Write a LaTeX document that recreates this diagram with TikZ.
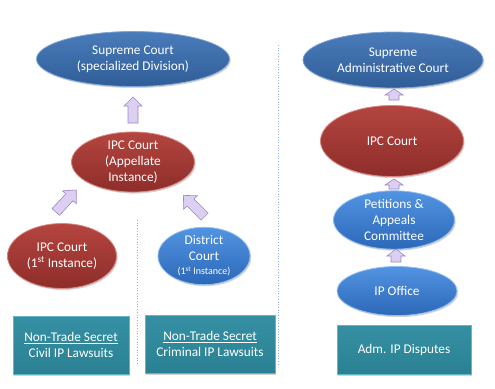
\documentclass[tikz,border=0pt]{standalone}
\usepackage{fontspec}
\setmainfont{Carlito}
\usetikzlibrary{shapes.geometric,shadows}
\definecolor{dbTop}{HTML}{4A7CBA}
\definecolor{dbBot}{HTML}{2F5D97}
\definecolor{dbEdge}{HTML}{7FA6D6}
\definecolor{rdTop}{HTML}{B4453F}
\definecolor{rdBot}{HTML}{8E2D2A}
\definecolor{rdEdge}{HTML}{D98884}
\definecolor{bbTop}{HTML}{5294E2}
\definecolor{bbBot}{HTML}{2C68B8}
\definecolor{bbEdge}{HTML}{8FBDF0}
\definecolor{tlFill}{HTML}{2B8194}
\definecolor{tlTop}{HTML}{358FA2}
\definecolor{tlEdge}{HTML}{62B6C8}
\definecolor{arFill}{HTML}{DCCFF2}
\definecolor{arEdge}{HTML}{9A87C8}
\definecolor{sepLine}{HTML}{8DB3E2}
% block arrow: #1 coordinate name, #2 angle, #3 length, #4 head length, #5 head width, #6 shaft width
\newcommand{\blockarr}[6]{%
  \begin{scope}[shift={(#1)}, rotate=#2]
    \filldraw[draw=arEdge, fill=arFill, line width=0.6pt, line join=miter]
      ({#3/2},0) -- ({#3/2-#4},{#5/2}) -- ({#3/2-#4},{#6/2}) -- ({-#3/2},{#6/2})
      -- ({-#3/2},{-#6/2}) -- ({#3/2-#4},{-#6/2}) -- ({#3/2-#4},{-#5/2}) -- cycle;
  \end{scope}}
\begin{document}
\begin{tikzpicture}[x=1pt,y=-1pt,
  court/.style={ellipse, inner sep=0pt, align=center, text=white,
    font=\fontsize{13.3}{16}\selectfont, line width=0.8pt,
    drop shadow={shadow xshift=1.2pt, shadow yshift=-1.5pt, opacity=0.35}},
  darkcourt/.style={court, draw=dbEdge, top color=dbTop, bottom color=dbBot},
  redcourt/.style={court, draw=rdEdge, top color=rdTop, bottom color=rdBot},
  brightcourt/.style={court, draw=bbEdge, top color=bbTop, bottom color=bbBot},
  casebox/.style={rectangle, inner sep=0pt, align=center, text=white,
    font=\fontsize{13.3}{16.5}\selectfont, draw=tlEdge, line width=0.8pt,
    top color=tlTop, bottom color=tlFill,
    drop shadow={shadow xshift=1.2pt, shadow yshift=-1.5pt, opacity=0.35}},
  sepline/.style={draw=sepLine, dotted, line width=0.7pt}
]
\useasboundingbox (0,0) rectangle (495,388);

% left column
\node[darkcourt, minimum width=193pt, minimum height=55pt] (sc) at (133,59)
  {Supreme Court\\(specialized Division)};
\node[redcourt, minimum width=123pt, minimum height=60pt] (ipcA) at (133,162)
  {IPC Court\\(Appellate\\Instance)};
\node[redcourt, minimum width=109pt, minimum height=65pt] (ipc1) at (62,256)
  {IPC Court\\(1\textsuperscript{st} Instance)};
\node[brightcourt, minimum width=92pt, minimum height=54pt] (dc) at (204,256)
  {District\\Court\\[-2pt]{\fontsize{10}{12}\selectfont (1\textsuperscript{st} Instance)}};

\node[casebox, minimum width=116pt, minimum height=58pt] (box1) at (71,345)
  {\underline{Non-Trade Secret}\\Civil IP Lawsuits};
\node[casebox, minimum width=130pt, minimum height=58pt] (box2) at (210,344)
  {\underline{Non-Trade Secret}\\Criminal IP Lawsuits};

% right column
\node[darkcourt, minimum width=180pt, minimum height=56pt] (sac) at (393,60)
  {Supreme\\Administrative Court};
\node[redcourt, minimum width=143pt, minimum height=71pt] (ipcR) at (392,141)
  {IPC Court};
\node[brightcourt, minimum width=121pt, minimum height=50pt] (pac) at (394,220)
  {Petitions \&\\Appeals\\Committee};
\node[brightcourt, minimum width=120pt, minimum height=49pt] (ipo) at (397,291)
  {IP Office};
\node[casebox, minimum width=134pt, minimum height=49pt] (box3) at (404,349.5)
  {Adm. IP Disputes};

% arrows
\coordinate (a1) at (133,110);
\coordinate (a2) at (66,201);
\coordinate (a3) at (194,206);
\coordinate (a4) at (394,94.5);
\coordinate (a5) at (394,184);
\coordinate (a6) at (396,255.5);
\blockarr{a1}{90}{26}{9}{18}{10}
\blockarr{a2}{47}{30}{10}{19}{10}
\blockarr{a3}{135}{30}{10}{19}{10}
\blockarr{a4}{90}{11}{6}{18}{10}
\blockarr{a5}{90}{10}{6}{18}{10}
\blockarr{a6}{90}{13}{7}{18}{10}

% separators
\coordinate (s1t) at (137,220);
\coordinate (s1b) at (137,365);
\coordinate (s2t) at (278,45);
\coordinate (s2b) at (278,365);
\draw[sepline] (s1t) -- (s1b);
\draw[sepline] (s2t) -- (s2b);
\end{tikzpicture}
\end{document}
